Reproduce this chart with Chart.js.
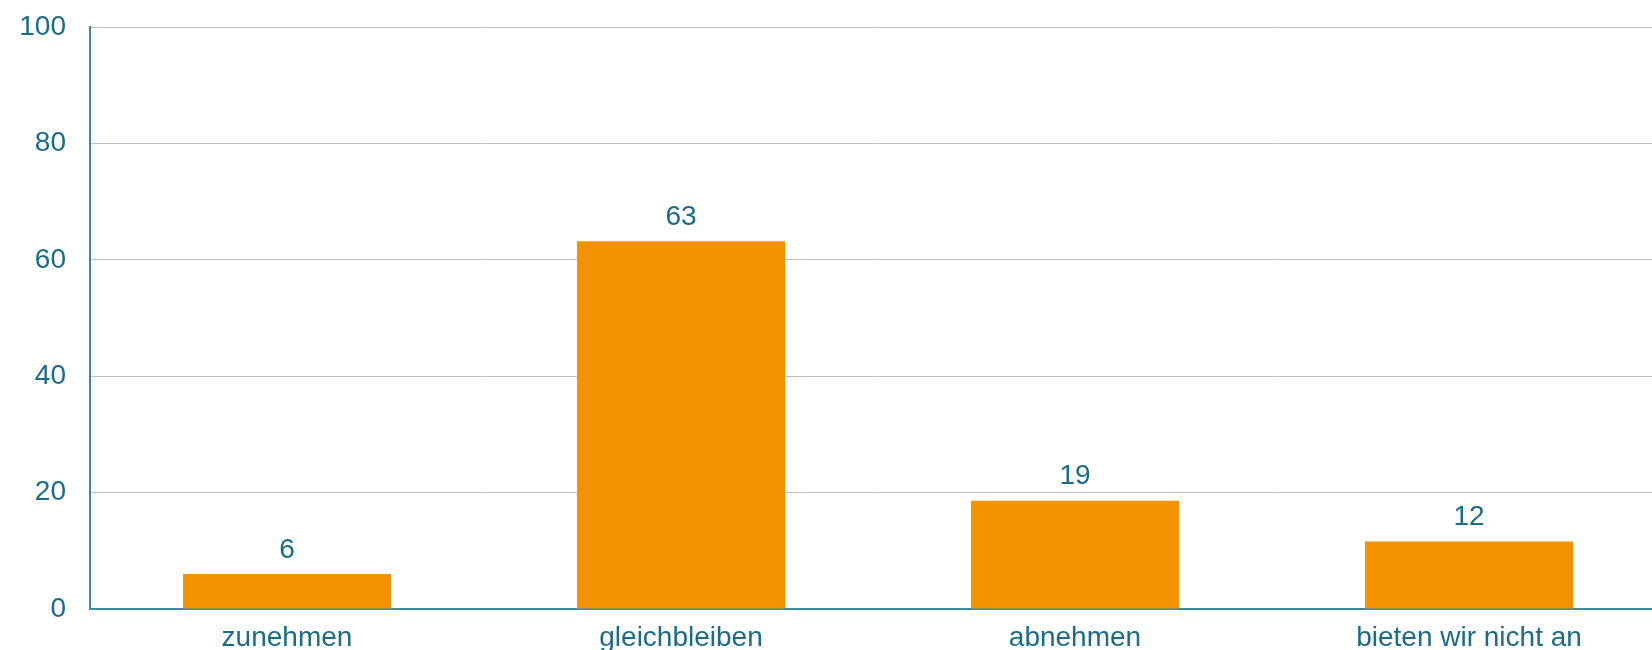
<!DOCTYPE html>
<html>
<head>
<meta charset="utf-8">
<script src="https://cdn.jsdelivr.net/npm/chart.js@4/dist/chart.umd.min.js"></script>
<style>
  html, body { margin: 0; padding: 0; background: #ffffff; overflow: hidden; }
  #wrap { width: 1652px; height: 650px; position: relative; overflow: hidden; }
  #c { position: absolute; left: 0; top: 0; }
</style>
</head>
<body>
<div id="wrap"><canvas id="c" width="1666" height="650"></canvas></div>
<script>
const categories = ["zunehmen", "gleichbleiben", "abnehmen", "bieten wir nicht an"];
const values = [6.0, 63.2, 18.6, 11.6];
const valueLabels = ["6", "63", "19", "12"];
const yTicks = [0, 20, 40, 60, 80, 100];

const TEXT = "#1b6b87";
const AXIS = "#3b8aa0";
const GRID = "#bfbfbf";
const BAR = "#f39200";
const FONT = "'Liberation Sans', Arial, sans-serif";

const labelPlugin = {
  id: "valueLabels",
  afterDatasetsDraw(chart) {
    const ctx = chart.ctx;
    const meta = chart.getDatasetMeta(0);
    ctx.save();
    ctx.fillStyle = TEXT;
    ctx.font = "28px " + FONT;
    ctx.textAlign = "center";
    ctx.textBaseline = "middle";
    meta.data.forEach((bar, i) => {
      ctx.fillText(valueLabels[i], bar.x, bar.y - 24);
    });
    ctx.restore();
  }
};

new Chart(document.getElementById("c"), {
  type: "bar",
  data: {
    labels: categories,
    datasets: [{
      data: values,
      backgroundColor: BAR,
      borderWidth: 0,
      categoryPercentage: 1,
      barPercentage: 0.528
    }]
  },
  options: {
    responsive: false,
    animation: false,
    devicePixelRatio: 1,
    layout: { padding: { top: 27, right: 0, left: 0, bottom: 0 } },
    plugins: { legend: { display: false }, tooltip: { enabled: false } },
    scales: {
      x: {
        grid: { display: true, color: "transparent", drawTicks: false },
        border: { display: true, color: AXIS, width: 2 },
        ticks: { color: TEXT, font: { family: FONT, size: 28 }, padding: 12, maxRotation: 0, autoSkip: false },
        afterFit(scale) { scale.height = 41; scale.paddingLeft = 0; scale.paddingRight = 0; }
      },
      y: {
        min: 0,
        max: 100,
        afterBuildTicks(scale) { scale.ticks = yTicks.map(v => ({ value: v })); },
        grid: { color: GRID, lineWidth: 1, drawTicks: false },
        border: { display: true, color: AXIS, width: 2 },
        ticks: { color: TEXT, font: { family: FONT, size: 28 }, padding: 24 },
        afterFit(scale) { scale.width = 90; scale.paddingTop = 0; scale.paddingBottom = 0; }
      }
    }
  },
  plugins: [labelPlugin]
});
</script>
</body>
</html>
